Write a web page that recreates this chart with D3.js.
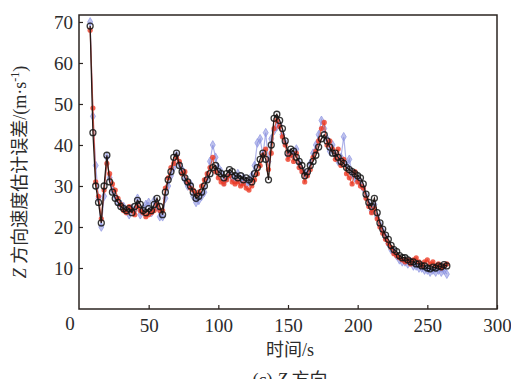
<!DOCTYPE html>
<html>
<head>
<meta charset="utf-8">
<script src="https://cdn.jsdelivr.net/npm/d3@7/dist/d3.min.js"></script>
<style>
  body { margin: 0; background: #fff; }
  text { font-family: "Liberation Serif", "Noto Sans CJK SC", serif; fill: #2b2b2b; }
</style>
</head>
<body>
<div id="chart"></div>
<script>
// sample times (s), every 2 s from 8 to 264
const time = d3.range(8, 265, 2);

// black series (open circles)
const seriesBlack = [
  69, 43, 30, 26, 21, 30, 37.5, 31, 28.5, 27,
  26, 25, 24.5, 24, 24.5, 23.5, 25, 26.5, 25.5, 24,
  23.5, 24.5, 24, 25.5, 27, 25, 23, 28.5, 31.5, 33.5,
  37, 38, 35, 33.5, 32, 31, 30, 28.5, 27, 27.5,
  28.5, 30, 31.5, 33, 34.5, 35, 33.5, 33, 32, 33,
  34, 33.5, 32.5, 32, 32.5, 31.5, 32, 31.5, 31, 33,
  34.5, 36.5, 38, 36.5, 31.5, 40, 46.5, 47.5, 46, 44,
  41, 38, 39, 38.5, 37, 36, 35, 32.5, 33.5, 35,
  36, 37.5, 39.5, 41.5, 42.5, 41, 39.5, 38, 38, 37,
  36, 35.5, 34.5, 34, 33.5, 33, 32.5, 32, 30.5, 28,
  26, 25, 27, 23.5, 21, 19.5, 18, 17, 15.5, 14.5,
  14, 13, 12.5, 12.5, 12, 11.5, 11.5, 11, 11, 10.5,
  10.5, 10, 9.8, 10.2, 10, 10.5, 10.3, 10.8, 10.5
];

// red series (filled dots)
const seriesRed = [
  68, 49, 31, 27.5, 22, 29, 35.5, 33, 30.5, 29,
  27, 25.5, 24, 23.5, 25, 24, 23, 25, 24, 23.5,
  22.5, 23, 23.5, 24, 25.5, 24, 24, 29.5, 32, 34.5,
  35.5, 37, 36, 33, 33.5, 31, 29.5, 29, 28, 28.5,
  30, 31.5, 33, 34.5, 37, 33.5, 32, 31, 30.5, 31.5,
  32.5, 31, 30.5, 31, 30, 30.5, 29.5, 29, 30, 31.5,
  33, 35, 37.5, 39, 34, 38, 44, 46, 44.5, 42,
  40, 36.5, 37.5, 36, 38, 34.5, 33.5, 31, 32.5, 34,
  37, 38.5, 41, 44, 45.5, 40, 41, 39, 36.5, 39,
  35, 36.5, 33, 32, 30.5, 33.5, 31, 30, 29.5, 27,
  25, 23.5, 24.5, 22, 20, 18.5, 17, 16, 15, 13.5,
  13, 12.5, 12, 11.5, 12, 11, 12, 12.5, 11.5, 10.5,
  11.5, 12, 11, 11.5, 10.5, 11, 10, 10.5, 11
];

// blue series (light markers)
const seriesBlue = [
  70, 47, 35, 27, 20, 27.5, 37, 32, 29, 27.5,
  26, 25.5, 25, 24, 23, 24.5, 24, 27, 23, 24.5,
  25.5, 26, 23.5, 26.5, 25, 22.5, 22.5, 27, 30, 32.5,
  34.5, 37.5, 35.5, 34, 31.5, 30, 30.5, 27.5, 26, 26.5,
  27.5, 28.5, 32, 36, 40, 37, 34.5, 33.5, 31, 32,
  33, 32, 31.5, 33, 31, 32, 30.5, 31, 32.5, 35,
  40.5, 41.5, 37.5, 43, 36, 41.5, 43.5, 44.5, 45, 42.5,
  40.5, 37.5, 38, 37.5, 39, 35.5, 34, 33, 33, 35.5,
  38, 40, 42.5, 46, 44, 41.5, 38.5, 40, 37.5, 36,
  37, 42, 35, 36.5, 33, 32, 31.5, 31, 29.5, 27.5,
  25.5, 24, 25.5, 22.5, 20.5, 19, 17.5, 16, 14.5, 14,
  13, 12, 11.5, 11.5, 11, 11.5, 10.5, 10.5, 10, 10,
  9.5, 9.5, 9, 9.5, 9, 9.5, 9, 9.5, 8.5
];

const xTicks = [50, 100, 150, 200, 250, 300];
const yTicks = [10, 20, 30, 40, 50, 60, 70];

const width = 511;
const height = 379;
const margin = { top: 15, right: 14, bottom: 70, left: 79 };
const innerWidth = width - margin.left - margin.right;
const innerHeight = height - margin.top - margin.bottom;

const svg = d3.select('#chart')
  .append('svg')
  .attr('width', width)
  .attr('height', height);

const chart = svg.append('g')
  .attr('transform', `translate(${margin.left}, ${margin.top})`);

const x = d3.scaleLinear().domain([0, 300]).range([0, innerWidth]);
const y = d3.scaleLinear().domain([0, 71.7]).range([innerHeight, 0]);

const line = (vals) => d3.line()
  .x((d, i) => x(time[i]))
  .y((d) => y(d))(vals);

// blue
chart.append('path')
  .attr('d', line(seriesBlue))
  .attr('fill', 'none')
  .attr('stroke', '#8d93e0')
  .attr('stroke-opacity', 0.7)
  .attr('stroke-width', 1.2);
chart.append('g').selectAll('path')
  .data(seriesBlue)
  .join('path')
  .attr('d', d3.symbol(d3.symbolDiamond, 22))
  .attr('transform', (d, i) => `translate(${x(time[i])}, ${y(d)})`)
  .attr('fill', '#7f87dc')
  .attr('fill-opacity', 0.5)
  .attr('stroke', '#8e95e2')
  .attr('stroke-opacity', 0.7)
  .attr('stroke-width', 1);

// red
chart.append('path')
  .attr('d', line(seriesRed))
  .attr('fill', 'none')
  .attr('stroke', '#e04a30')
  .attr('stroke-opacity', 0.85)
  .attr('stroke-width', 1.2);
chart.append('g').selectAll('circle')
  .data(seriesRed)
  .join('circle')
  .attr('cx', (d, i) => x(time[i]))
  .attr('cy', (d) => y(d))
  .attr('r', 2.6)
  .attr('fill', '#ec3b25')
  .attr('fill-opacity', 0.8);

// black
chart.append('path')
  .attr('d', line(seriesBlack))
  .attr('fill', 'none')
  .attr('stroke', '#2a1a16')
  .attr('stroke-width', 1.3);
chart.append('g').selectAll('circle')
  .data(seriesBlack)
  .join('circle')
  .attr('cx', (d, i) => x(time[i]))
  .attr('cy', (d) => y(d))
  .attr('r', 3)
  .attr('fill', 'none')
  .attr('stroke', '#141414')
  .attr('stroke-opacity', 0.85)
  .attr('stroke-width', 1.3);

// frame
chart.append('rect')
  .attr('width', innerWidth)
  .attr('height', innerHeight)
  .attr('fill', 'none')
  .attr('stroke', '#2b2420')
  .attr('stroke-width', 1.5);

// axes, ticks pointing inward
const xAxis = d3.axisBottom(x).tickValues(xTicks).tickSize(-4).tickPadding(10);
const yAxis = d3.axisLeft(y).tickValues(yTicks).tickSize(-4).tickPadding(6);

const gx = chart.append('g')
  .attr('transform', `translate(0, ${innerHeight})`)
  .call(xAxis);
const gy = chart.append('g').call(yAxis);

[gx, gy].forEach((g) => {
  g.select('.domain').remove();
  g.selectAll('.tick line').attr('stroke', '#2b2420').attr('stroke-width', 1.2);
  g.selectAll('.tick text')
    .style('font-family', '"Liberation Serif", serif')
    .style('font-size', '19px')
    .attr('fill', '#333');
});

// shared origin label
chart.append('text')
  .attr('x', -9)
  .attr('y', innerHeight + 17)
  .attr('text-anchor', 'middle')
  .attr('dominant-baseline', 'middle')
  .style('font-size', '19px')
  .attr('fill', '#333')
  .text('0');

// axis titles
svg.append('text')
  .attr('transform', 'translate(26, 172) rotate(-90)')
  .attr('text-anchor', 'middle')
  .style('font-size', '18px')
  .attr('fill', '#333')
  .html('<tspan font-style="italic">Z</tspan> 方向速度估计误差/(m·s<tspan dy="-7" font-size="12px">-1</tspan><tspan dy="7">)</tspan>');

svg.append('text')
  .attr('x', 290)
  .attr('y', 356)
  .attr('text-anchor', 'middle')
  .style('font-size', '18px')
  .attr('fill', '#333')
  .text('时间/s');

svg.append('text')
  .attr('x', 290)
  .attr('y', 386)
  .attr('text-anchor', 'middle')
  .style('font-size', '18px')
  .attr('fill', '#333')
  .html('(c) <tspan font-style="italic">Z</tspan> 方向');
</script>
</body>
</html>
